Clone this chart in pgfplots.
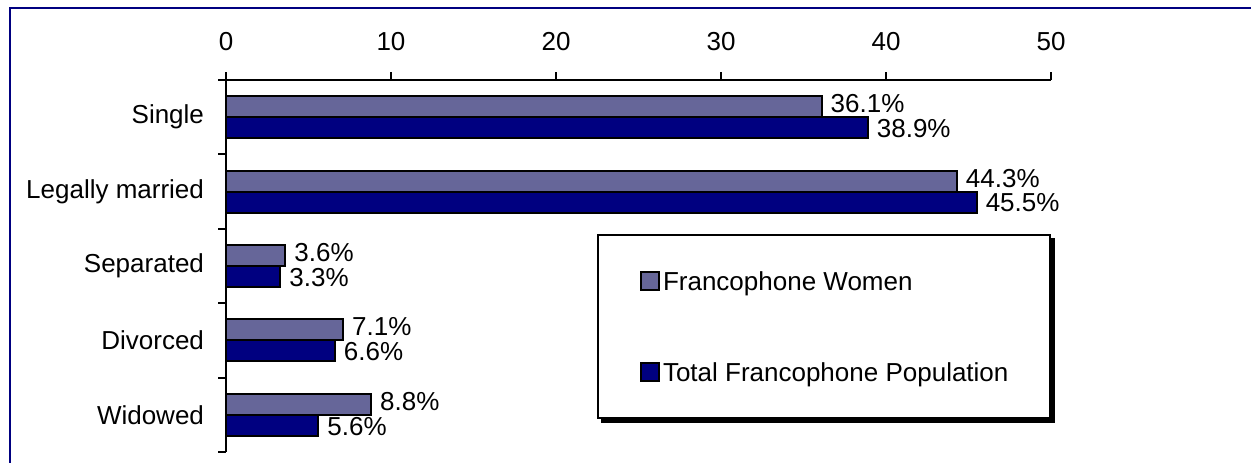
\documentclass[border=0pt]{standalone}
\usepackage{fontspec}
\setmainfont{Liberation Sans}
\usepackage{pgfplots}
\pgfplotsset{compat=1.18}
\usetikzlibrary{backgrounds}

\definecolor{women}{HTML}{666699}
\definecolor{total}{HTML}{000080}
\definecolor{framecol}{HTML}{000080}

\begin{document}
\fontsize{13}{15.6}\selectfont
\begin{tikzpicture}
\path[use as bounding box] (0,0) rectangle (625.5pt,-231pt);
\draw[framecol, line width=1.2pt] (5pt,-4pt) rectangle (640pt,-245pt);
\begin{axis}[
  at={(113pt,-40pt)}, anchor=north west,
  scale only axis, width=412.5pt, height=186pt,
  xmin=0, xmax=50, ymin=0.5, ymax=5.5,
  axis x line=top, axis y line=left,
  axis line style={-, line width=1pt, black},
  xtick={0,10,...,50},
  tick align=outside, major tick length=4pt,
  tick style={line width=1pt, black},
  ytick={0.5,1.5,...,5.5}, yticklabels={,,,,,,},
  extra y ticks={1,2,3,4,5},
  extra y tick labels={Widowed,Divorced,Separated,Legally married,Single},
  extra y tick style={major tick length=0pt, yticklabel style={xshift=-6.5pt}},
  /pgf/number format/assume math mode=true,
  xticklabel style={yshift=6pt},
  xbar, bar width=10.5pt,
  point meta=x,
  nodes near coords={\pgfmathprintnumber[fixed,fixed zerofill,precision=1]{\pgfplotspointmeta}\%},
  every node near coord/.append style={inner ysep=0pt, inner xsep=4pt},
  legend cell align=left,
  legend style={name=leg, at={(0.4497,0.586)}, anchor=north west,
    draw=black, line width=1pt, fill=white,
    inner xsep=21pt, inner ysep=18.1pt, row sep=35.45pt, column sep=1.5pt,
    nodes={inner sep=0pt, text height=9.3pt, text depth=0pt}},
  legend image code/.code={\draw[#1, line width=1pt] (0pt,-4.5pt) rectangle (9pt,4.5pt);},
  clip=false,
]
\addplot[draw=black, line width=1pt, fill=women, bar shift=5.25pt,
  every node near coord/.append style={yshift=1.5pt}] coordinates {
  (36.1,5) (44.3,4) (3.6,3) (7.1,2) (8.8,1)
};
\addplot[draw=black, line width=1pt, fill=total, bar shift=-5.25pt,
  every node near coord/.append style={yshift=-0.5pt}] coordinates {
  (38.9,5) (45.5,4) (3.3,3) (6.6,2) (5.6,1)
};
\legend{Francophone Women, Total Francophone Population}
\end{axis}
\begin{scope}[on background layer]
  \fill[black] ([xshift=2pt,yshift=-2pt]leg.south west) rectangle ([xshift=2pt,yshift=-2pt]leg.north east);
\end{scope}
\end{tikzpicture}
\end{document}
